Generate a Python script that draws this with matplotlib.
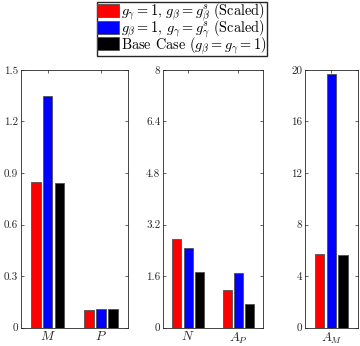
import matplotlib
matplotlib.use("Agg")
from matplotlib import pyplot as plt
from matplotlib.ticker import FormatStrFormatter

plt.rcParams['font.family'] = ['cmr10', 'DejaVu Serif']
plt.rcParams['mathtext.fontset'] = 'cm'
plt.rcParams['axes.formatter.use_mathtext'] = True

# data
cats1 = ['$M$', '$P$']
red1 = [0.85, 0.105]
blue1 = [1.35, 0.11]
black1 = [0.843, 0.108]

cats2 = ['$N$', '$A_P$']
red2 = [2.76, 1.17]
blue2 = [2.48, 1.69]
black2 = [1.73, 0.74]

cats3 = ['$A_M$']
red3 = [5.68]
blue3 = [19.7]
black3 = [5.66]

labels = [r'$g_\gamma = 1,\, g_\beta = g_\beta^s$ (Scaled)',
          r'$g_\beta = 1,\, g_\gamma = g_\gamma^s$ (Scaled)',
          r'Base Case ($g_\beta = g_\gamma = 1$)']
colors = ['#ff0000', '#0000ff', '#000000']

panels = [
    (cats1, [red1, blue1, black1], 1.5, [0, 0.3, 0.6, 0.9, 1.2, 1.5], [0.058, 0.297]),
    (cats2, [red2, blue2, black2], 8, [0, 1.6, 3.2, 4.8, 6.4, 8], [0.453, 0.278]),
    (cats3, [red3, blue3, black3], 20, [0, 4, 8, 12, 16, 20], [0.847, 0.147]),
]

fig = plt.figure(figsize=(3.6, 3.46), dpi=100)
bottom, height = 0.053, 0.745
offsets = [-0.222, 0.0, 0.222]
handles = []
for cats, series, ymax, yticks, (left, width) in panels:
    ax = fig.add_axes([left, bottom, width, height])
    x = list(range(1, len(cats) + 1))
    hs = []
    for vals, off, c in zip(series, offsets, colors):
        h = ax.bar([xi + off for xi in x], vals, width=0.18, color=c,
                   edgecolor='#505050', linewidth=0.6, zorder=2)
        hs.append(h)
    handles = hs
    ax.set_xlim(0.5, len(cats) + 0.5)
    ax.set_ylim(0, ymax)
    ax.set_xticks(x)
    ax.set_xticklabels(cats)
    ax.set_yticks(yticks)
    ax.yaxis.set_major_formatter(FormatStrFormatter('%g'))
    ax.tick_params(direction='in', top=True, right=True, length=2.5,
                   width=0.5, labelsize=8, colors='#262626', pad=2)
    ax.tick_params(axis='x', labelsize=9.5, pad=2)
    for s in ax.spines.values():
        s.set_color('#262626')
        s.set_linewidth(0.6)

fig.legend(handles, labels, loc='upper center', bbox_to_anchor=(0.505, 0.995),
           fontsize=10.3, frameon=True, fancybox=False, edgecolor='#262626',
           framealpha=1, handlelength=1.55, handleheight=1.05, handletextpad=0.15,
           labelspacing=-0.38, borderpad=0.0, borderaxespad=0)

plt.savefig('out.png', dpi=100)
